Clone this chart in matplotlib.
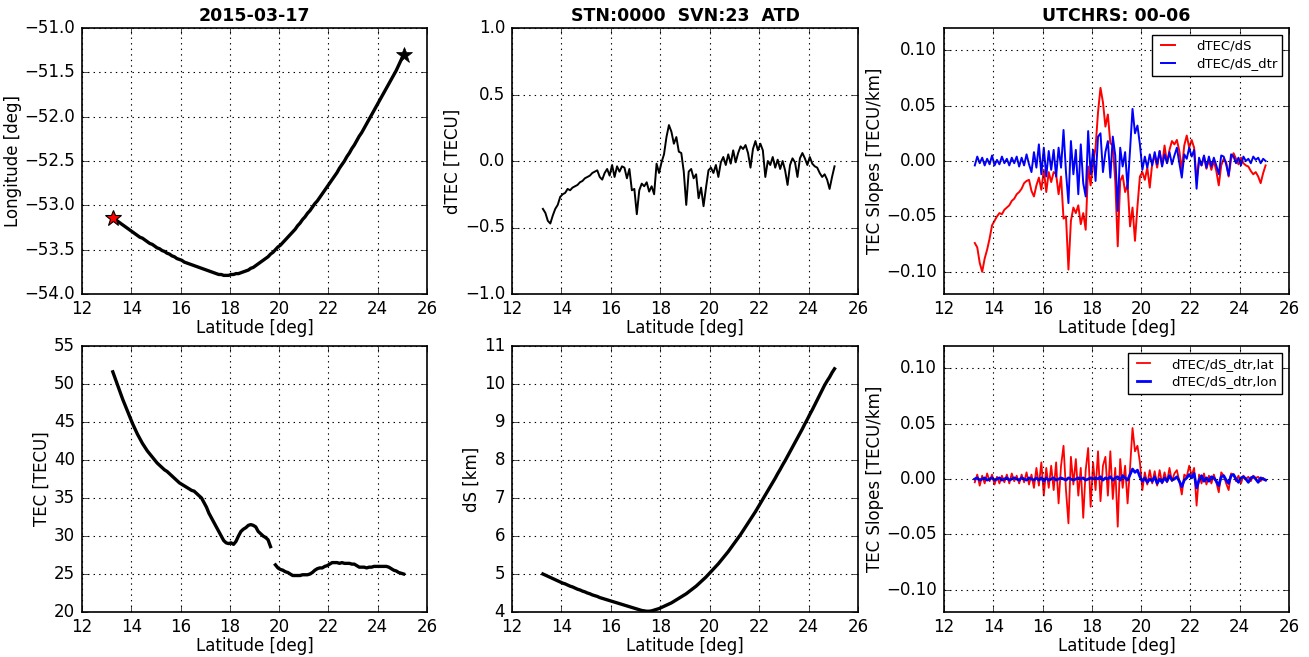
import numpy as np
import matplotlib
matplotlib.use("Agg")
import matplotlib.pyplot as plt
from matplotlib.ticker import FuncFormatter

# ---------------- data ----------------
lat = [13.25, 13.35, 13.45, 13.55, 13.65, 13.75, 13.85, 13.95, 14.05, 14.15,
       14.25, 14.35, 14.45, 14.55, 14.65, 14.75, 14.85, 14.95, 15.05, 15.15,
       15.25, 15.35, 15.45, 15.55, 15.65, 15.75, 15.85, 15.95, 16.05, 16.15,
       16.25, 16.35, 16.45, 16.55, 16.65, 16.75, 16.85, 16.95, 17.05, 17.15,
       17.25, 17.35, 17.45, 17.55, 17.65, 17.75, 17.85, 17.95, 18.05, 18.15,
       18.25, 18.35, 18.45, 18.55, 18.65, 18.75, 18.85, 18.95, 19.05, 19.15,
       19.25, 19.35, 19.45, 19.55, 19.65, 19.75, 19.85, 19.95, 20.05, 20.15,
       20.25, 20.35, 20.45, 20.55, 20.65, 20.75, 20.85, 20.95, 21.05, 21.15,
       21.25, 21.35, 21.45, 21.55, 21.65, 21.75, 21.85, 21.95, 22.05, 22.15,
       22.25, 22.35, 22.45, 22.55, 22.65, 22.75, 22.85, 22.95, 23.05, 23.15,
       23.25, 23.35, 23.45, 23.55, 23.65, 23.75, 23.85, 23.95, 24.05, 24.15,
       24.25, 24.35, 24.45, 24.55, 24.65, 24.75, 24.85, 24.95, 25.05]

lon = [-53.14, -53.16, -53.18, -53.20, -53.22, -53.24, -53.26, -53.28, -53.30, -53.32,
       -53.34, -53.36, -53.37, -53.39, -53.41, -53.43, -53.44, -53.46, -53.48, -53.49,
       -53.51, -53.52, -53.54, -53.55, -53.57, -53.58, -53.60, -53.61, -53.62, -53.64,
       -53.65, -53.66, -53.67, -53.68, -53.69, -53.70, -53.71, -53.72, -53.73, -53.74,
       -53.75, -53.76, -53.77, -53.78, -53.78, -53.79, -53.79, -53.79, -53.78, -53.78,
       -53.77, -53.77, -53.76, -53.75, -53.74, -53.73, -53.71, -53.70, -53.68, -53.66,
       -53.64, -53.62, -53.60, -53.58, -53.55, -53.53, -53.50, -53.47, -53.45, -53.42,
       -53.39, -53.36, -53.33, -53.30, -53.27, -53.23, -53.20, -53.16, -53.13, -53.09,
       -53.06, -53.02, -52.98, -52.95, -52.91, -52.87, -52.83, -52.79, -52.75, -52.71,
       -52.67, -52.63, -52.58, -52.54, -52.50, -52.45, -52.41, -52.36, -52.32, -52.27,
       -52.22, -52.18, -52.13, -52.08, -52.03, -51.98, -51.93, -51.88, -51.83, -51.78,
       -51.73, -51.68, -51.63, -51.58, -51.53, -51.48, -51.42, -51.36, -51.30]

dtec = [-0.36, -0.39, -0.45, -0.47, -0.41, -0.36, -0.33, -0.27, -0.25, -0.24,
        -0.21, -0.22, -0.20, -0.19, -0.18, -0.16, -0.15, -0.13, -0.12, -0.11,
        -0.09, -0.08, -0.07, -0.12, -0.14, -0.09, -0.06, -0.11, -0.03, -0.12,
        -0.04, -0.08, -0.04, -0.05, -0.13, -0.06, -0.22, -0.21, -0.40, -0.22,
        -0.17, -0.19, -0.16, -0.23, -0.19, -0.25, -0.02, -0.09, -0.01, 0.05,
        0.18, 0.27, 0.22, 0.13, 0.18, 0.07, 0.06, -0.08, -0.33, -0.08,
        -0.06, -0.13, -0.10, -0.28, -0.20, -0.34, -0.20, -0.07, -0.05, -0.09,
        -0.03, -0.12, -0.01, 0.03, -0.03, 0.05, -0.02, 0.08, -0.01, 0.06,
        0.11, 0.09, 0.12, 0.06, -0.05, 0.09, 0.15, 0.08, 0.13, 0.08,
        -0.12, 0.00, -0.03, 0.03, -0.05, 0.01, -0.06, 0.00, -0.07, -0.18,
        -0.03, 0.02, -0.01, -0.12, 0.02, 0.06, 0.02, -0.03, 0.03, -0.02,
        -0.04, -0.05, -0.09, -0.12, -0.10, -0.14, -0.21, -0.12, -0.04]

slope = [-0.074, -0.078, -0.092, -0.100, -0.088, -0.080, -0.070, -0.058, -0.054, -0.050,
         -0.047, -0.048, -0.044, -0.042, -0.040, -0.036, -0.034, -0.030, -0.028, -0.025,
         -0.020, -0.018, -0.017, -0.027, -0.032, -0.022, -0.015, -0.026, -0.008, -0.028,
         -0.010, -0.019, -0.010, -0.012, -0.030, -0.014, -0.052, -0.050, -0.098, -0.054,
         -0.042, -0.047, -0.040, -0.057, -0.047, -0.062, -0.005, -0.022, -0.002, 0.012,
         0.044, 0.066, 0.053, 0.031, 0.042, 0.016, 0.014, -0.018, -0.077, -0.018,
         -0.013, -0.028, -0.021, -0.059, -0.042, -0.072, -0.041, -0.014, -0.010, -0.017,
         -0.006, -0.024, -0.002, 0.005, -0.006, 0.009, -0.004, 0.014, -0.002, 0.010,
         0.018, 0.015, 0.019, 0.009, -0.008, 0.014, 0.023, 0.012, 0.019, 0.012,
         -0.017, 0.000, -0.004, 0.004, -0.007, 0.001, -0.008, 0.000, -0.009, -0.022,
         -0.004, 0.002, -0.001, -0.014, 0.002, 0.007, 0.002, -0.003, 0.003, -0.002,
         -0.004, -0.005, -0.009, -0.012, -0.010, -0.014, -0.020, -0.011, -0.004]

slope_dtr = [-0.004, 0.004, -0.002, 0.003, -0.004, 0.002, -0.003, 0.005, -0.004, 0.001,
             -0.003, 0.004, -0.002, 0.002, -0.004, 0.003, -0.002, 0.004, -0.005, 0.003,
             -0.004, 0.006, -0.003, -0.010, 0.008, -0.006, 0.015, -0.012, 0.012, -0.014,
             0.009, -0.008, 0.010, -0.014, 0.012, -0.006, 0.028, -0.010, -0.038, 0.018,
             -0.012, 0.010, -0.030, 0.015, -0.020, -0.032, 0.027, -0.012, 0.010, -0.018,
             0.022, 0.025, -0.010, 0.008, 0.018, -0.015, 0.022, 0.005, -0.045, 0.012,
             -0.005, 0.008, -0.025, 0.010, 0.047, 0.025, 0.032, 0.015, -0.008, 0.004,
             -0.006, 0.006, -0.004, 0.008, -0.003, 0.009, -0.005, 0.006, -0.002, 0.008,
             -0.003, 0.005, 0.012, -0.002, -0.015, 0.006, 0.002, 0.012, 0.004, 0.010,
             -0.025, 0.003, -0.004, 0.005, -0.006, 0.004, -0.005, 0.003, -0.004, -0.012,
             0.005, 0.004, -0.003, -0.013, 0.006, 0.004, -0.002, 0.003, -0.004, 0.004,
             0.000, 0.002, -0.002, 0.004, 0.001, 0.003, -0.002, 0.002, 0.000]

tec = [51.6, 50.7, 49.8, 48.9, 48.0, 47.2, 46.4, 45.6, 44.8, 44.1,
       43.4, 42.8, 42.2, 41.7, 41.2, 40.8, 40.4, 40.0, 39.6, 39.3,
       39.0, 38.7, 38.5, 38.2, 37.9, 37.6, 37.3, 37.0, 36.8, 36.6,
       36.4, 36.2, 36.0, 35.9, 35.6, 35.3, 35.0, 34.4, 33.8, 33.0,
       32.4, 31.8, 31.2, 30.6, 30.0, 29.4, 29.1, 29.0, 29.1, 28.9,
       29.3, 30.0, 30.6, 30.9, 31.1, 31.4, 31.5, 31.4, 31.2, 30.6,
       30.3, 30.0, 29.8, 29.5, 28.6, np.nan, 26.2, 25.8, 25.6, 25.5,
       25.3, 25.2, 25.0, 24.8, 24.8, 24.8, 24.8, 24.9, 24.9, 24.9,
       25.0, 25.2, 25.5, 25.7, 25.8, 25.8, 26.0, 26.1, 26.3, 26.5,
       26.5, 26.5, 26.4, 26.5, 26.4, 26.4, 26.4, 26.3, 26.3, 26.1,
       25.9, 25.9, 25.9, 25.8, 25.9, 25.9, 26.0, 26.0, 26.0, 26.0,
       26.0, 26.0, 25.9, 25.7, 25.5, 25.4, 25.2, 25.1, 25.0]

ds = [5.00, 4.97, 4.94, 4.91, 4.88, 4.85, 4.82, 4.79, 4.76, 4.74,
      4.71, 4.68, 4.66, 4.63, 4.60, 4.58, 4.55, 4.53, 4.50, 4.48,
      4.45, 4.43, 4.41, 4.38, 4.36, 4.34, 4.32, 4.30, 4.28, 4.26,
      4.24, 4.22, 4.20, 4.18, 4.16, 4.14, 4.12, 4.10, 4.08, 4.06,
      4.04, 4.03, 4.02, 4.02, 4.03, 4.05, 4.07, 4.09, 4.12, 4.15,
      4.18, 4.21, 4.24, 4.28, 4.32, 4.36, 4.40, 4.44, 4.48, 4.53,
      4.58, 4.63, 4.68, 4.74, 4.80, 4.86, 4.92, 4.99, 5.06, 5.13,
      5.20, 5.27, 5.35, 5.43, 5.51, 5.59, 5.68, 5.77, 5.86, 5.95,
      6.04, 6.14, 6.24, 6.34, 6.44, 6.54, 6.64, 6.75, 6.86, 6.97,
      7.08, 7.19, 7.30, 7.41, 7.52, 7.64, 7.75, 7.87, 7.98, 8.10,
      8.22, 8.34, 8.46, 8.58, 8.70, 8.82, 8.95, 9.07, 9.20, 9.32,
      9.45, 9.58, 9.71, 9.84, 9.97, 10.08, 10.18, 10.30, 10.40]

slope_lat = [-0.003, 0.004, -0.006, 0.003, -0.004, 0.005, -0.002, 0.004, -0.005, 0.002,
             -0.004, 0.003, -0.003, 0.004, -0.004, 0.005, -0.002, 0.003, -0.004, 0.004,
             -0.003, 0.006, -0.005, 0.004, -0.008, 0.010, -0.006, 0.015, -0.015, 0.010,
             -0.008, 0.012, -0.010, 0.015, -0.022, 0.012, 0.030, -0.010, -0.040, 0.020,
             -0.005, 0.018, -0.015, 0.010, -0.035, 0.008, 0.028, -0.025, 0.015, -0.010,
             0.025, -0.020, 0.012, 0.020, -0.015, 0.025, -0.018, 0.010, -0.043, 0.018,
             -0.008, 0.012, -0.022, 0.010, 0.046, 0.025, 0.030, 0.015, -0.010, 0.006,
             -0.005, 0.008, -0.004, 0.007, -0.006, 0.008, -0.004, 0.006, -0.003, 0.010,
             -0.002, 0.005, 0.008, -0.002, -0.014, 0.004, 0.002, 0.012, 0.003, 0.010,
             -0.024, 0.004, -0.004, 0.005, -0.005, 0.003, -0.004, 0.004, -0.003, -0.012,
             0.006, 0.003, -0.004, -0.010, 0.005, 0.004, -0.002, 0.003, -0.004, 0.003,
             0.000, 0.002, -0.002, 0.003, 0.001, 0.002, -0.002, 0.001, -0.001]

slope_lon = [0.000, 0.001, -0.001, 0.000, 0.001, -0.001, 0.000, 0.001, -0.001, 0.000,
             0.001, -0.001, 0.000, 0.001, -0.001, 0.000, 0.001, 0.000, -0.001, 0.001,
             0.000, -0.001, 0.001, 0.000, -0.001, 0.001, -0.001, 0.001, -0.002, 0.001,
             -0.001, 0.000, 0.001, -0.001, 0.000, 0.001, 0.000, -0.001, 0.001, 0.000,
             -0.001, 0.000, 0.001, 0.000, 0.001, -0.001, 0.000, 0.001, 0.000, 0.001,
             0.000, 0.002, -0.001, 0.001, 0.000, 0.002, -0.001, 0.001, 0.002, -0.001,
             0.003, 0.001, -0.001, 0.004, 0.009, 0.006, 0.008, 0.002, -0.002, 0.001,
             -0.003, 0.000, -0.002, 0.002, -0.004, 0.000, -0.003, 0.001, -0.002, 0.003,
             -0.001, 0.000, 0.002, -0.002, -0.007, -0.001, 0.001, 0.004, 0.001, 0.005,
             -0.008, -0.001, 0.003, -0.002, 0.001, -0.002, 0.002, 0.001, -0.002, -0.006,
             0.002, 0.003, -0.001, -0.004, 0.003, 0.004, 0.000, -0.003, 0.001, 0.002,
             0.000, -0.003, 0.001, 0.002, 0.000, -0.003, 0.001, 0.000, -0.001]

titles = ["2015-03-17", "STN:0000  SVN:23  ATD", "UTCHRS: 00-06"]
xticks = [12, 14, 16, 18, 20, 22, 24, 26]

# ---------------- style ----------------
plt.style.use("classic")
plt.rcParams.update({
    "figure.facecolor": "white",
    "savefig.facecolor": "white",
    "font.family": ["DejaVu Sans"],
    "font.size": 12,
    "xtick.labelsize": 12,
    "ytick.labelsize": 12,
    "axes.labelsize": 12,
    "axes.titlesize": 12.5,
    "axes.titleweight": "bold",
    "axes.linewidth": 1.2,
    "grid.linewidth": 0.8,
})

W, H = 1309, 657
fig = plt.figure(figsize=(W / 100, H / 100), dpi=100)

lefts = [82, 512, 944]
widths = [345, 346, 345]
top_row = (28, 294)
bot_row = (346, 612)


def make_ax(col, row):
    t, b = row
    return fig.add_axes([lefts[col] / W, 1 - b / H, widths[col] / W, (b - t) / H])


def fmt(decimals):
    return FuncFormatter(lambda v, p: f"{v:.{decimals}f}".replace("-", "\u2212"))


axs_top = [make_ax(i, top_row) for i in range(3)]
axs_bot = [make_ax(i, bot_row) for i in range(3)]

for ax in axs_top + axs_bot:
    ax.grid(True, color="k", linestyle=":", linewidth=0.8)
    ax.set_xlim(12, 26)
    ax.set_xticks(xticks)
    ax.set_xlabel("Latitude [deg]", labelpad=1)
    ax.tick_params(which="both", direction="in", top=True, right=True, length=4, pad=5)
    ax.tick_params(axis="x", pad=4)

leg_kw = dict(loc="upper right", fontsize=9.5, frameon=True, fancybox=False,
              borderaxespad=0.5, handlelength=1.6, handletextpad=1.3, numpoints=2,
              borderpad=0.4, labelspacing=0.35)

# 1: Longitude vs latitude
ax = axs_top[0]
ax.plot(lat, lon, "-", color="k", lw=2.4)
ax.plot(lat[0], lon[0], "*", color="red", mec="k", ms=12, mew=0.8)
ax.plot(lat[-1], lon[-1], "*", color="k", mec="k", ms=12)
ax.set_ylim(-54, -51)
ax.set_yticks([-54.0, -53.5, -53.0, -52.5, -52.0, -51.5, -51.0])
ax.yaxis.set_major_formatter(fmt(1))
ax.set_ylabel("Longitude [deg]", labelpad=2)
ax.set_title(titles[0], pad=5)

# 2: dTEC
ax = axs_top[1]
ax.plot(lat, dtec, "-", color="k", lw=1.4)
ax.set_ylim(-1, 1)
ax.set_yticks([-1.0, -0.5, 0.0, 0.5, 1.0])
ax.yaxis.set_major_formatter(fmt(1))
ax.set_ylabel("dTEC [TECU]", labelpad=2)
ax.set_title(titles[1], pad=5)

# 3: slopes
ax = axs_top[2]
ax.plot(lat, slope, "-", color="red", lw=1.4, label="dTEC/dS")
ax.plot(lat, slope_dtr, "-", color="blue", lw=1.4, label="dTEC/dS_dtr")
ax.set_ylim(-0.12, 0.12)
ax.set_yticks([-0.10, -0.05, 0.0, 0.05, 0.10])
ax.yaxis.set_major_formatter(fmt(2))
ax.set_ylabel("TEC Slopes [TECU/km]", labelpad=2)
ax.set_title(titles[2], pad=5)
ax.legend(**leg_kw)

# 4: TEC
ax = axs_bot[0]
ax.plot(lat, tec, "-", color="k", lw=2.4)
ax.set_ylim(20, 55)
ax.set_yticks([20, 25, 30, 35, 40, 45, 50, 55])
ax.set_ylabel("TEC [TECU]", labelpad=2)

# 5: dS
ax = axs_bot[1]
ax.plot(lat, ds, "-", color="k", lw=2.4)
ax.set_ylim(4, 11)
ax.set_yticks([4, 5, 6, 7, 8, 9, 10, 11])
ax.set_ylabel("dS [km]", labelpad=2)

# 6: detrended slopes
ax = axs_bot[2]
ax.plot(lat, slope_lat, "-", color="red", lw=1.3, label="dTEC/dS_dtr,lat")
ax.plot(lat, slope_lon, "-", color="blue", lw=2.0, label="dTEC/dS_dtr,lon")
ax.set_ylim(-0.12, 0.12)
ax.set_yticks([-0.10, -0.05, 0.0, 0.05, 0.10])
ax.yaxis.set_major_formatter(fmt(2))
ax.set_ylabel("TEC Slopes [TECU/km]", labelpad=2)
ax.legend(**leg_kw)

fig.savefig("out.png", dpi=100)
